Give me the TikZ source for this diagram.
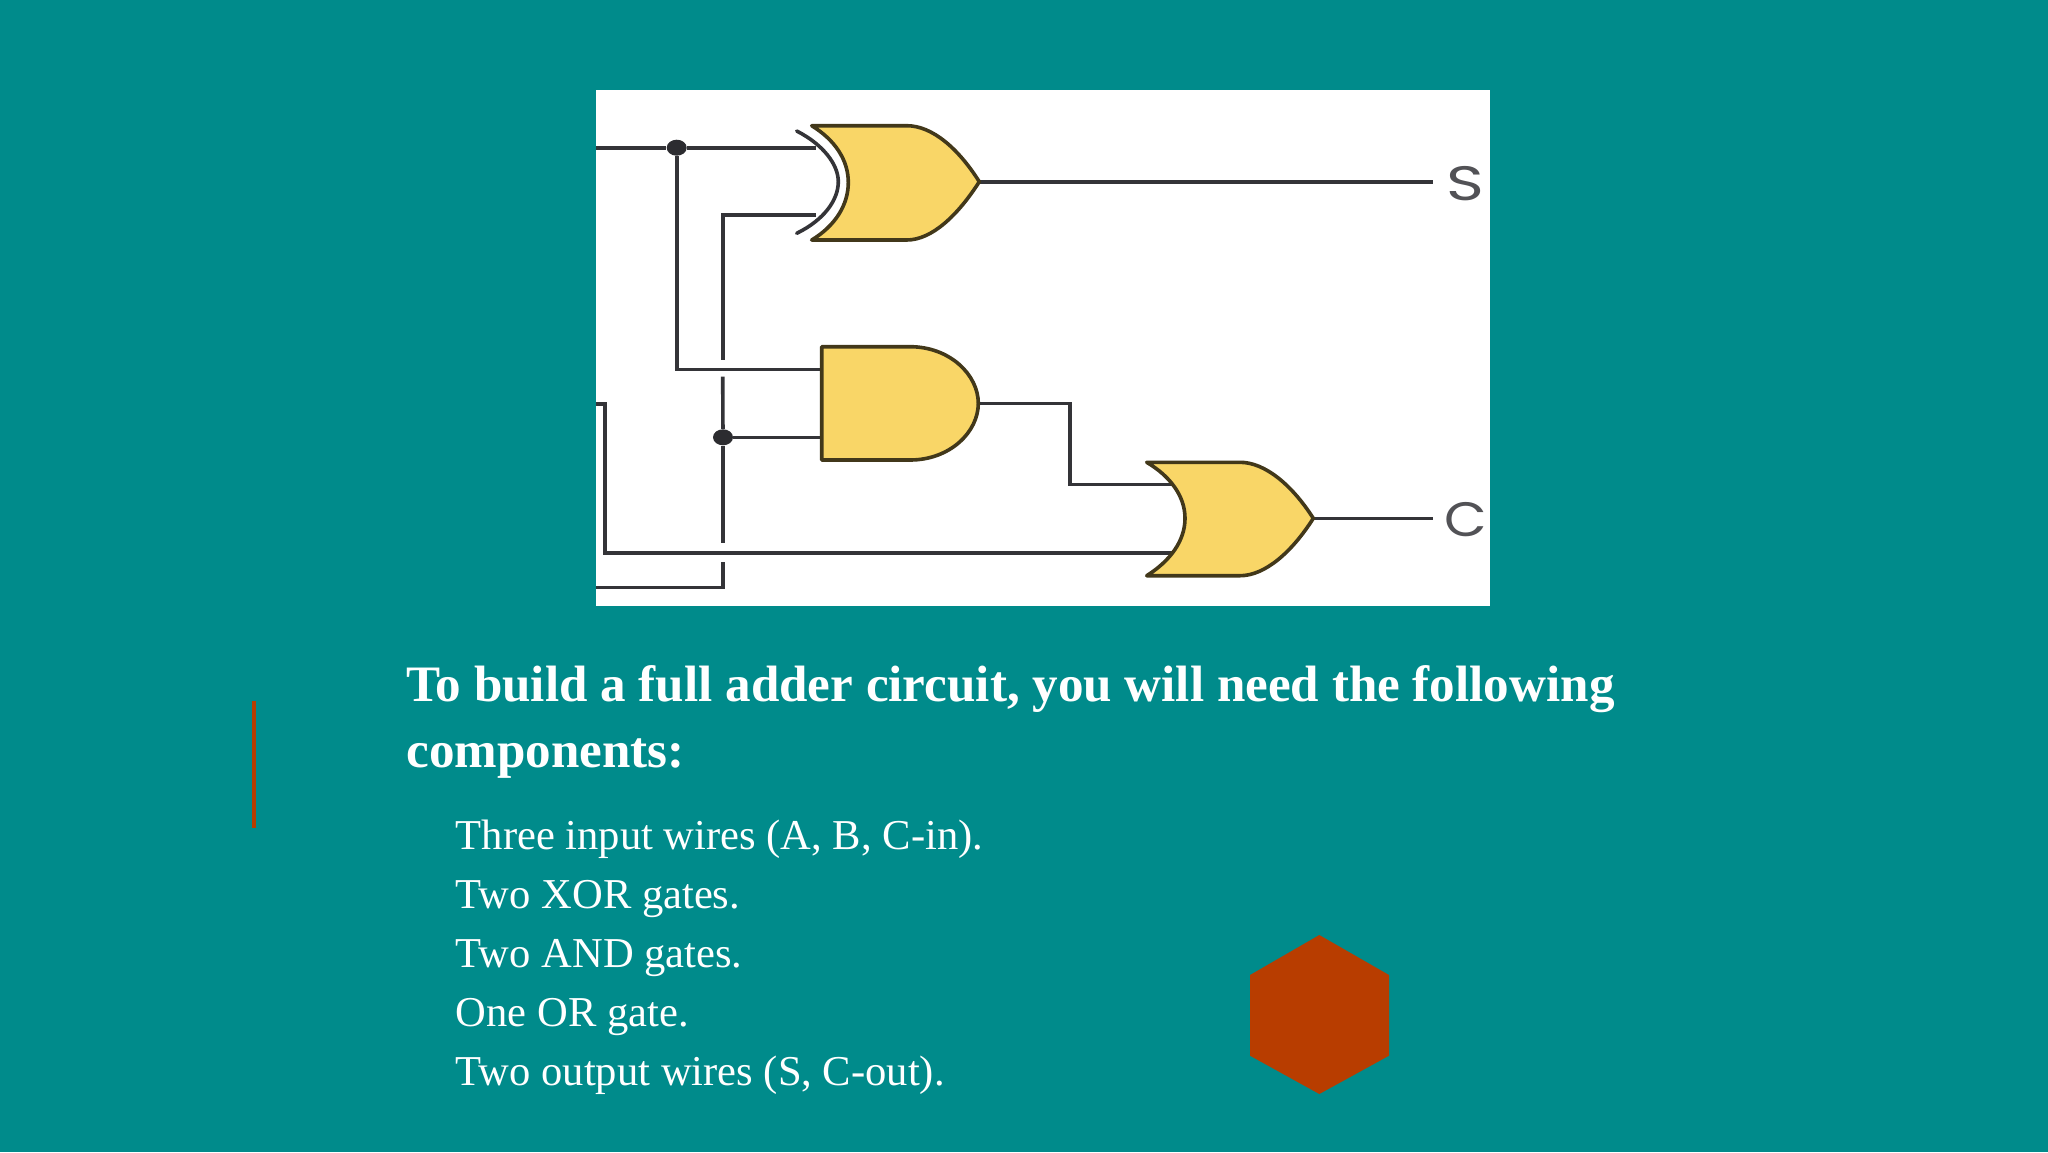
\documentclass[tikz,border=0pt]{standalone}
\usepackage{fontspec}
\setmainfont{Liberation Serif}
\newfontfamily\pinfont{Poppins}
\usetikzlibrary{positioning, calc, shapes.geometric}
\definecolor{slideteal}{RGB}{0,139,139}
\definecolor{rust}{RGB}{184,61,0}
\definecolor{gateyellow}{RGB}{249,214,103}
\definecolor{gateline}{RGB}{66,56,26}
\definecolor{wiregrey}{RGB}{52,52,56}

\begin{document}
\begin{tikzpicture}[x=0.5pt, y=-0.5pt,
    wire/.style={draw=wiregrey, line width=1.8pt, line join=miter},
    gatebody/.style={draw=gateline, fill=gateyellow, line width=1.8pt, line join=round},
    joint/.style={ellipse, fill=wiregrey!85!black, inner sep=0pt, minimum width=10pt, minimum height=8pt},
    pinlabel/.style={font=\pinfont\fontsize{23}{23}\selectfont, text=wiregrey!85!white, inner sep=0pt},
    headline/.style={anchor=base west, inner sep=0pt, text=white, font=\fontsize{25.55}{30}\selectfont\bfseries},
    partline/.style={anchor=base west, inner sep=0pt, text=white, font=\fontsize{21.28}{26}\selectfont}]

    \fill[slideteal] (0,0) rectangle (2048,1152);
    \useasboundingbox (0,0) rectangle (2048,1152);
    \fill[white] (596,89.5) rectangle (1490,606);

    % pins
    \coordinate (InA) at (596,147.7);
    \coordinate (InB) at (596,587.3);
    \coordinate (InC) at (596,404);
    \coordinate (XorIn1) at (816,147.7);
    \coordinate (XorIn2) at (816,215);
    \coordinate (AndIn1) at (822,369.3);
    \coordinate (AndIn2) at (822,437.3);
    \coordinate (AndOut) at (978.3,403.3);
    \coordinate (XorOut) at (979.3,181.7);
    \coordinate (OrIn1) at (1172,484.3);
    \coordinate (OrIn2) at (1172,552.7);
    \coordinate (OrOut) at (1313.3,518.3);
    \coordinate (CornerB) at (722.7,215);

    \node[joint] (JoinA) at (676.7,147.7) {};
    \node[joint] (JoinB) at (723,437.3) {};
    \node[pinlabel] (S) at (1465,184) {\scalebox{1.4}[1.05]{S}};
    \node[pinlabel] (C) at (1466,520) {\scalebox{1.2}[1.05]{C}};

    % wires
    \draw[wire] (InA) -- (JoinA) -- (XorIn1);
    \draw[wire] (JoinA) |- (AndIn1);
    \draw[wire] (XorIn2) -- (CornerB) -- ++(0,145);
    \draw[wire] ($(CornerB |- AndIn1)+(0,7.4)$) -- (JoinB);
    \draw[wire] (JoinB) -- (AndIn2);
    \draw[wire] (JoinB) -- ($(JoinB |- OrIn2)+(0,-9.4)$);
    \draw[wire] (InB) -| ($(JoinB |- OrIn2)+(0,9)$);
    \draw[wire] (InC) -| (604.7,552.7) -- (OrIn2);
    \draw[wire] (AndOut) -| (1070,484.3) -- (OrIn1);
    \draw[wire] (XorOut) -- (1433,181.7);
    \draw[wire] (OrOut) -- (1433,518.3);

    % gates
    \draw[gatebody] (811.7,125.7) -- (906.7,125.7) .. controls (932,125.7) and (958,148) .. (979.3,181.7)
        .. controls (958,215) and (932,240) .. (906.7,240) -- (811.7,240)
        .. controls (835,226) and (848.3,205) .. (848.3,182.5) .. controls (848.3,160) and (835,140) .. cycle;
    \draw[wire, line cap=round] (796.7,131) .. controls (824,145) and (838.3,165) .. (838.3,181.7)
        .. controls (838.3,200) and (824,220) .. (796.7,233.3);
    \draw[gatebody] (821.7,346.7) -- (910,346.7) .. controls (950,346.7) and (978.3,375) .. (978.3,403.3)
        .. controls (978.3,432) and (950,460) .. (910,460) -- (821.7,460) -- cycle;
    \draw[gatebody] (1146.7,462.3) -- (1240,462.3) .. controls (1265,462.3) and (1292,485) .. (1313.3,518.3)
        .. controls (1292,552) and (1265,575.7) .. (1240,575.7) -- (1146.7,575.7)
        .. controls (1170,561) and (1185,541) .. (1185,518.3) .. controls (1185,496) and (1170,476) .. cycle;

    % slide furniture
    \fill[rust] (251.5,701) rectangle (255.5,828);
    \fill[rust] (1319.3,935) -- (1389,975) -- (1389,1055.7) -- (1319.3,1094) -- (1250,1055.7) -- (1250,975) -- cycle;

    % text
    \node[headline] (Title1) at (406,701) {To build a full adder circuit, you will need the following};
    \node[headline] (Title2) at (406,767) {components:};
    \node[partline] (Part1) at (455.5,849.3) {Three input wires (A, B, C-in).};
    \node[partline] (Part2) at (455.5,908.3) {Two XOR gates.};
    \node[partline] (Part3) at (455.5,967.3) {Two AND gates.};
    \node[partline] (Part4) at (455.5,1026.7) {One OR gate.};
    \node[partline] (Part5) at (455.5,1085) {Two output wires (S, C-out).};
\end{tikzpicture}
\end{document}
